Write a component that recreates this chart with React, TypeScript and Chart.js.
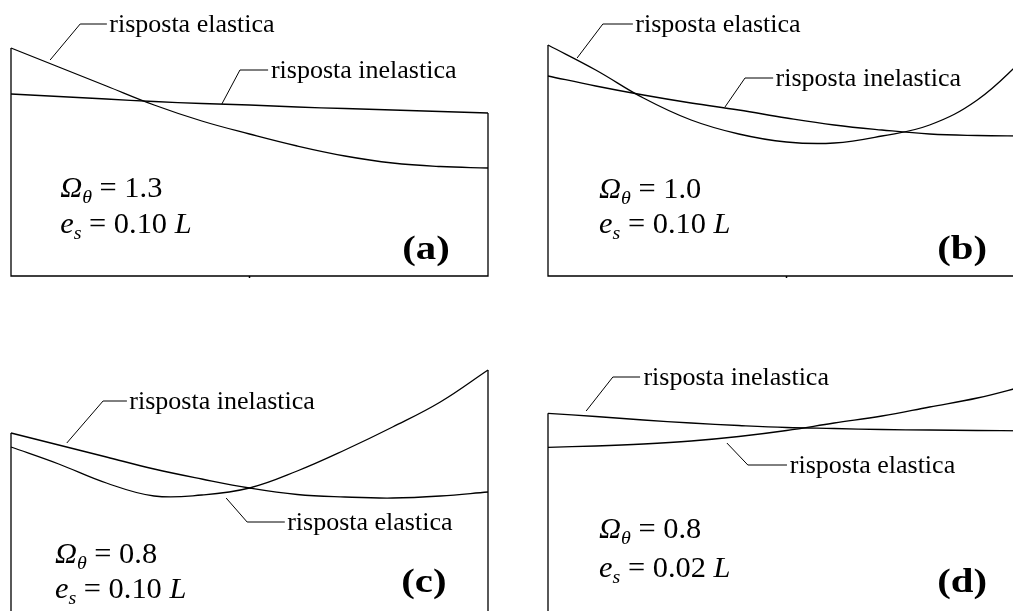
import React, { useEffect, useRef } from "react";
import { Chart, registerables } from "chart.js";

Chart.register(...registerables);

// Normalised position along the beam (0 = left support, 1 = right end of the panel)
const BEAM_X = [0, 0.1, 0.2, 0.3, 0.4, 0.5, 0.6, 0.7, 0.8, 0.9, 1.0];

// Response curves (arbitrary units, 0 = panel baseline)
const ELASTIC_A = [2.28, 2.09, 1.9, 1.71, 1.55, 1.42, 1.3, 1.2, 1.13, 1.095, 1.08];
const INELASTIC_A = [1.82, 1.795, 1.77, 1.745, 1.725, 1.71, 1.69, 1.675, 1.66, 1.645, 1.63];

const ELASTIC_B = [2.31, 2.06, 1.78, 1.56, 1.42, 1.34, 1.33, 1.4, 1.51, 1.76, 2.18];
const INELASTIC_B = [2.0, 1.9, 1.81, 1.73, 1.66, 1.58, 1.51, 1.46, 1.42, 1.405, 1.4];

const ELASTIC_C = [2.03, 1.86, 1.67, 1.54, 1.55, 1.62, 1.79, 2.0, 2.23, 2.48, 2.8];
const INELASTIC_C = [2.17, 2.05, 1.93, 1.81, 1.71, 1.62, 1.555, 1.53, 1.52, 1.54, 1.58];

const ELASTIC_D = [2.027, 2.04, 2.06, 2.09, 2.135, 2.195, 2.27, 2.34, 2.43, 2.52, 2.64];
const INELASTIC_D = [2.367, 2.335, 2.3, 2.27, 2.245, 2.225, 2.215, 2.205, 2.2, 2.195, 2.192];

// Texts
const LABEL_ELASTIC = "risposta elastica";
const LABEL_INELASTIC = "risposta inelastica";
const OMEGA_VALUES = ["1.3", "1.0", "0.8", "0.8"];
const ES_VALUES = ["0.10", "0.10", "0.10", "0.02"];
const PANEL_TAGS = ["(a)", "(b)", "(c)", "(d)"];

const FONT = "'Liberation Serif', 'Times New Roman', Tinos, serif";

type Leader = { pts: [number, number][]; textX: number; label: string };
type PanelCfg = {
  left: number;
  top: number;
  w: number;
  h: number;
  pad: { left: number; right: number; top: number; bottom: number };
  yMax: number;
  elastic: number[];
  inelastic: number[];
  leaders: Leader[];
  params: { x: number; y1: number; y2: number };
  tag: { x: number; y: number };
  idx: number;
};

const PANELS: PanelCfg[] = [
  {
    left: 0, top: 0, w: 506, h: 300,
    pad: { left: 11, right: 18, top: 6, bottom: 24 }, yMax: 2.7,
    elastic: ELASTIC_A, inelastic: INELASTIC_A,
    leaders: [
      { pts: [[0.082, 2.16], [0.145, 2.52], [0.201, 2.52]], textX: 0.206, label: LABEL_ELASTIC },
      { pts: [[0.442, 1.72], [0.48, 2.06], [0.539, 2.06]], textX: 0.545, label: LABEL_INELASTIC },
    ],
    params: { x: 0.103, y1: 0.79, y2: 0.43 },
    tag: { x: 0.82, y: 0.17 },
    idx: 0,
  },
  {
    left: 506, top: 0, w: 540, h: 300,
    pad: { left: 42, right: 21, top: 6, bottom: 24 }, yMax: 2.7,
    elastic: ELASTIC_B, inelastic: INELASTIC_B,
    leaders: [
      { pts: [[0.061, 2.18], [0.115, 2.52], [0.178, 2.52]], textX: 0.183, label: LABEL_ELASTIC },
      { pts: [[0.371, 1.69], [0.413, 1.98], [0.472, 1.98]], textX: 0.477, label: LABEL_INELASTIC },
    ],
    params: { x: 0.107, y1: 0.78, y2: 0.43 },
    tag: { x: 0.816, y: 0.17 },
    idx: 1,
  },
  {
    left: 0, top: 300, w: 506, h: 360,
    pad: { left: 11, right: 18, top: 70, bottom: 10 }, yMax: 2.8,
    elastic: ELASTIC_C, inelastic: INELASTIC_C,
    leaders: [
      { pts: [[0.117, 2.07], [0.193, 2.49], [0.243, 2.49]], textX: 0.248, label: LABEL_INELASTIC },
      { pts: [[0.451, 1.52], [0.495, 1.28], [0.574, 1.28]], textX: 0.579, label: LABEL_ELASTIC },
    ],
    params: { x: 0.092, y1: 0.87, y2: 0.52 },
    tag: { x: 0.818, y: 0.58 },
    idx: 2,
  },
  {
    left: 506, top: 300, w: 540, h: 360,
    pad: { left: 42, right: 21, top: 70, bottom: 10 }, yMax: 2.8,
    elastic: ELASTIC_D, inelastic: INELASTIC_D,
    leaders: [
      { pts: [[0.08, 2.39], [0.136, 2.73], [0.193, 2.73]], textX: 0.2, label: LABEL_INELASTIC },
      { pts: [[0.375, 2.07], [0.419, 1.85], [0.501, 1.85]], textX: 0.507, label: LABEL_ELASTIC },
    ],
    params: { x: 0.107, y1: 1.12, y2: 0.73 },
    tag: { x: 0.816, y: 0.58 },
    idx: 3,
  },
];

type Seg = { t: string; it?: boolean; sub?: boolean; bold?: boolean };

function drawRich(ctx: CanvasRenderingContext2D, x: number, y: number, segs: Seg[], size: number, sx: number) {
  ctx.save();
  ctx.translate(x, y);
  ctx.scale(sx, 1);
  ctx.fillStyle = "#000";
  ctx.textBaseline = "alphabetic";
  ctx.textAlign = "left";
  let cx = 0;
  for (const s of segs) {
    const fs = Math.round(s.sub ? size * 0.66 : size);
    ctx.font = `${s.it ? "italic " : ""}${s.bold ? "bold " : ""}${fs}px ${FONT}`;
    ctx.fillText(s.t, cx, s.sub ? size * 0.2 : 0);
    cx += ctx.measureText(s.t).width;
  }
  ctx.restore();
}

function Panel({ cfg }: { cfg: PanelCfg }) {
  const ref = useRef<HTMLCanvasElement>(null);
  useEffect(() => {
    const canvas = ref.current;
    if (!canvas) return;
    const annot = {
      id: "annot",
      afterDatasetsDraw(chart: any) {
        const ctx: CanvasRenderingContext2D = chart.ctx;
        const xs = chart.scales.x;
        const ys = chart.scales.y;
        const px = (v: number) => xs.getPixelForValue(v);
        const py = (v: number) => ys.getPixelForValue(v);
        ctx.save();
        ctx.strokeStyle = "#000";
        ctx.lineWidth = 1.3;
        const n = cfg.elastic.length - 1;
        const topL = Math.max(cfg.elastic[0], cfg.inelastic[0]);
        const topR = Math.max(cfg.elastic[n], cfg.inelastic[n]);
        ctx.beginPath();
        ctx.moveTo(px(0), py(topL));
        ctx.lineTo(px(0), py(0));
        ctx.lineTo(px(1), py(0));
        ctx.lineTo(px(1), py(topR));
        ctx.stroke();
        ctx.lineWidth = 1.5;
        ctx.beginPath();
        ctx.moveTo(px(0.5), py(0));
        ctx.lineTo(px(0.5), py(0) + 2);
        ctx.stroke();
        ctx.lineWidth = 1;
        for (const l of cfg.leaders) {
          ctx.beginPath();
          l.pts.forEach(([a, b], i) => {
            if (i === 0) ctx.moveTo(px(a), py(b));
            else ctx.lineTo(px(a), py(b));
          });
          ctx.stroke();
          const last = l.pts[l.pts.length - 1];
          drawRich(ctx, px(l.textX), py(last[1]) + 8, [{ t: l.label }], 26, 1.0);
        }
        const i = cfg.idx;
        drawRich(ctx, px(cfg.params.x), py(cfg.params.y1), [
          { t: "Ω", it: true },
          { t: "θ", it: true, sub: true },
          { t: " = " + OMEGA_VALUES[i] },
        ], 29, 1.05);
        drawRich(ctx, px(cfg.params.x), py(cfg.params.y2), [
          { t: "e", it: true },
          { t: "s", it: true, sub: true },
          { t: " = " + ES_VALUES[i] + " " },
          { t: "L", it: true },
        ], 29, 1.05);
        drawRich(ctx, px(cfg.tag.x), py(cfg.tag.y), [{ t: PANEL_TAGS[i], bold: true }], 34, 1.2);
        ctx.restore();
      },
    };
    const mk = (vals: number[]) => BEAM_X.map((x, k) => ({ x, y: vals[k] }));
    const chart = new Chart(canvas, {
      type: "line",
      data: {
        datasets: [
          { label: LABEL_ELASTIC, data: mk(cfg.elastic), borderColor: "#000", borderWidth: 1.3, pointRadius: 0, tension: 0.4, clip: false, fill: false } as any,
          { label: LABEL_INELASTIC, data: mk(cfg.inelastic), borderColor: "#000", borderWidth: 1.3, pointRadius: 0, tension: 0.4, clip: false, fill: false } as any,
        ],
      },
      options: {
        responsive: false,
        animation: false,
        devicePixelRatio: 1,
        layout: { padding: cfg.pad },
        scales: {
          x: { type: "linear", min: 0, max: 1, display: false },
          y: { type: "linear", min: 0, max: cfg.yMax, display: false },
        },
        plugins: { legend: { display: false }, tooltip: { enabled: false } },
        events: [],
      },
      plugins: [annot],
    });
    let alive = true;
    const fonts: any = (document as any).fonts;
    if (fonts && fonts.load) {
      Promise.all([
        fonts.load(`24px 'Liberation Serif'`),
        fonts.load(`italic 24px 'Liberation Serif'`),
        fonts.load(`bold 32px 'Liberation Serif'`),
      ]).then(() => { if (alive) chart.draw(); }).catch(() => {});
    }
    return () => { alive = false; chart.destroy(); };
  }, [cfg]);
  return (
    <canvas
      ref={ref}
      width={cfg.w}
      height={cfg.h}
      style={{ position: "absolute", left: cfg.left, top: cfg.top, width: cfg.w, height: cfg.h }}
    />
  );
}

export default function App() {
  return (
    <div
      style={{
        position: "fixed",
        left: 0,
        top: 0,
        width: 1013,
        height: 611,
        overflow: "hidden",
        background: "#fff",
        fontFamily: "'Liberation Serif'",
      }}
    >
      <span style={{ position: "absolute", left: -999, top: 0, fontFamily: "'Liberation Serif'" }}>
        a<i>a</i><b>a</b>
      </span>
      {PANELS.map((p) => (
        <Panel key={p.idx} cfg={p} />
      ))}
    </div>
  );
}
